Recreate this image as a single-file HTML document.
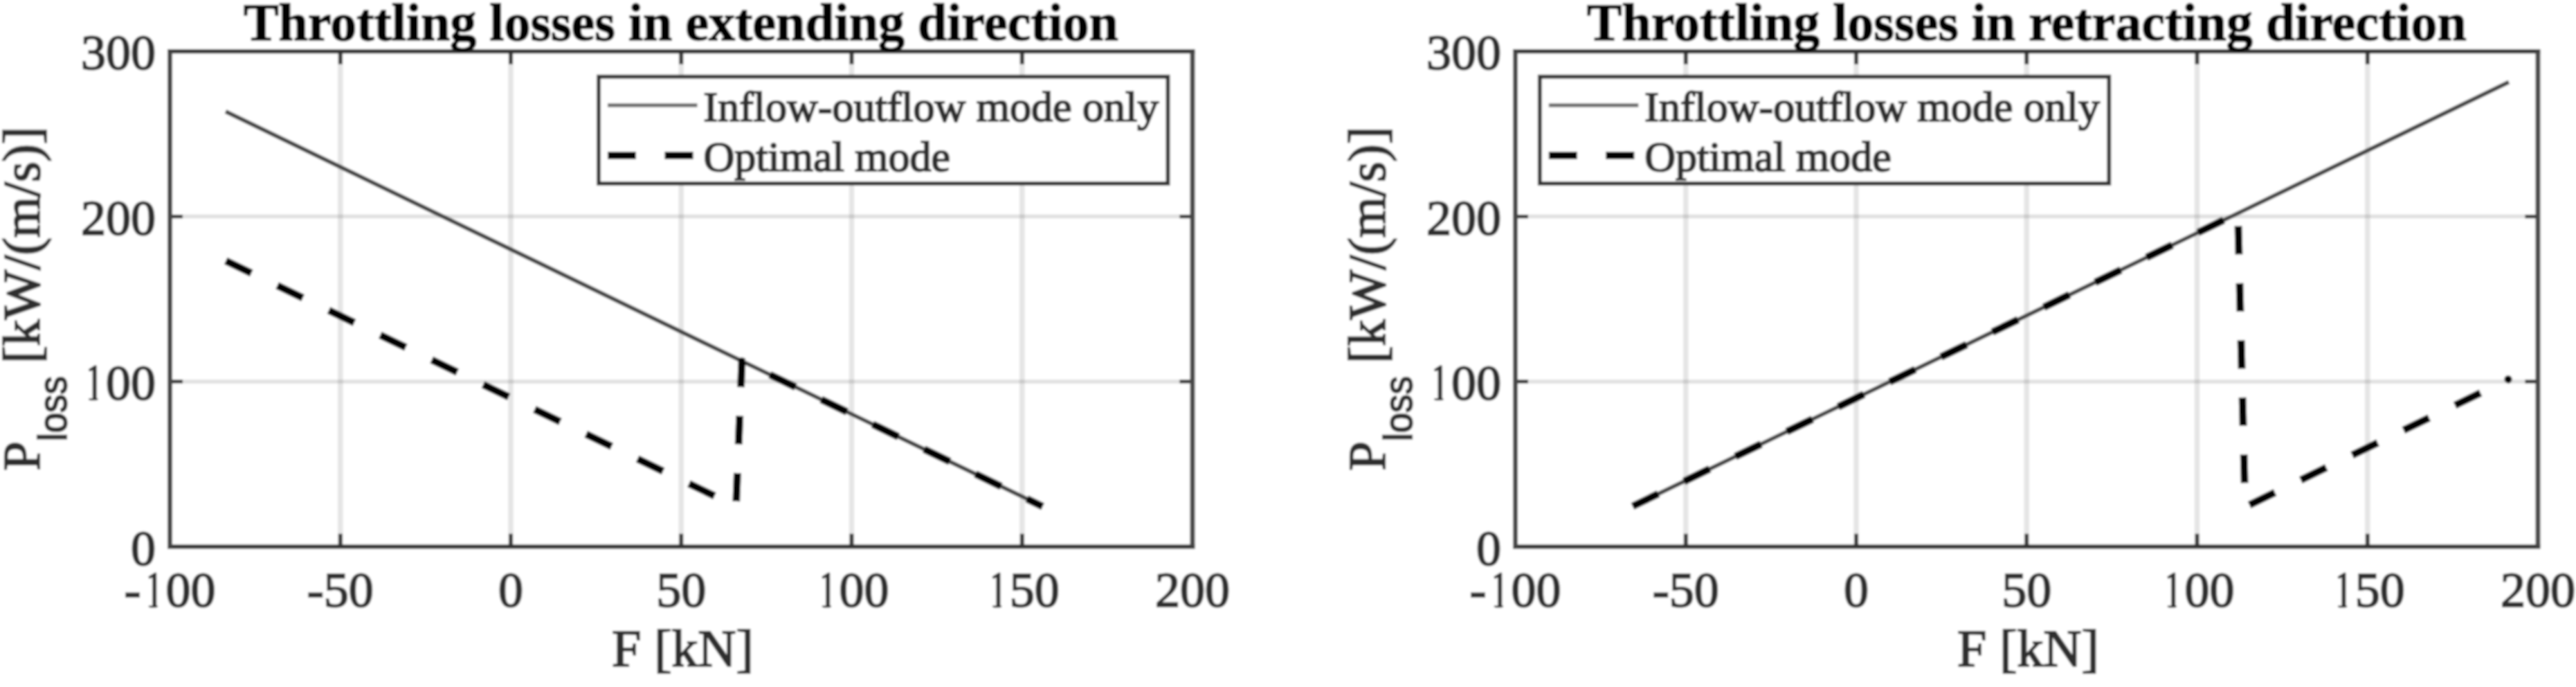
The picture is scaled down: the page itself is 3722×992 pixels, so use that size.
<!DOCTYPE html>
<html><head><meta charset="utf-8"><style>
html,body{margin:0;padding:0;background:#fff;overflow:hidden;}
svg{display:block;font-family:"Liberation Serif",serif;}
text{stroke:#2e2e2e;stroke-width:2.2px;}
text.t{stroke:#000;stroke-width:1.5px;}
.h{fill:none;stroke:none;}
</style></head><body>
<svg width="3722" height="992" viewBox="0 0 3722 992">
<defs><filter id="b" x="0" y="0" width="3722" height="992" filterUnits="userSpaceOnUse"><feGaussianBlur stdDeviation="1.7 1.5"/></filter></defs>
<g filter="url(#b)">
<rect width="3722" height="992" fill="#fff"/>
<path d="M491.8 74.2V789.3M738.0 74.2V789.3M984.2 74.2V789.3M1230.5 74.2V789.3M1476.8 74.2V789.3" stroke="#262626" stroke-opacity="0.12" stroke-width="7.5" fill="none"/>
<path d="M245.5 550.9H1723.0M245.5 312.6H1723.0" stroke="#262626" stroke-opacity="0.14" stroke-width="5.5" fill="none"/>
<path d="M491.8 789.3v-18.5M491.8 74.2v18.5M738.0 789.3v-18.5M738.0 74.2v18.5M984.2 789.3v-18.5M984.2 74.2v18.5M1230.5 789.3v-18.5M1230.5 74.2v18.5M1476.8 789.3v-18.5M1476.8 74.2v18.5" stroke="#3a3a3a" stroke-width="6" fill="none"/>
<path d="M245.5 550.9h18.5M1723.0 550.9h-18.5M245.5 312.6h18.5M1723.0 312.6h-18.5" stroke="#333" stroke-width="5.2" fill="none"/>
<polyline points="326.0,161.0 1506.5,731.3" stroke="#444" stroke-width="6" fill="none"/>
<polyline points="326.3,376.6 1063.5,731.0 1072.0,521.5 1506.5,731.3" stroke="#000" stroke-width="10.8" fill="none" stroke-dasharray="41 41.5" stroke-linejoin="round"/>
<path d="M242.0 74.2H1726.5M242.0 789.3H1726.5" stroke="#333" stroke-width="6.2" fill="none"/>
<path d="M245.5 74.2V789.3M1723.0 74.2V789.3" stroke="#474747" stroke-width="7" fill="none"/>
<rect x="865.0" y="110.7" width="822.5" height="154.3" stroke="#333" stroke-width="5.8" fill="#fff"/>
<path d="M878.0 152H1007.5" stroke="#6c6c6c" stroke-width="5.5" fill="none"/>
<path d="M878.0 224.5H1007.5" stroke="#000" stroke-width="10.8" stroke-dasharray="41 41.5" fill="none"/>
<text x="1016.5" y="175.2" font-size="62" fill="#2e2e2e">Inflow-outflow mode only</text>
<text x="1016.5" y="247.2" font-size="62" fill="#2e2e2e">Optimal mode</text>
<text x="179.5" y="876.4" font-size="72" fill="#2e2e2e">-<tspan class="h">1</tspan>00</text>
<path d="M217.50 876.40h7.6v-48.6h-1.4l-8.2 5.4l0.9 1.3l4.9-2.2v44.1z" fill="#2e2e2e" stroke="#2e2e2e" stroke-width="2.2" stroke-linejoin="round"/>
<path d="M215.50 876.40h11.8v-1.2h-11.8z" fill="#2e2e2e" stroke="#2e2e2e" stroke-width="1.2"/>
<text x="443.8" y="876.4" font-size="72" fill="#2e2e2e">-50</text>
<text x="720.0" y="876.4" font-size="72" fill="#2e2e2e">0</text>
<text x="948.2" y="876.4" font-size="72" fill="#2e2e2e">50</text>
<text x="1176.5" y="876.4" font-size="72" fill="#2e2e2e"><tspan class="h">1</tspan>00</text>
<path d="M1190.50 876.40h7.6v-48.6h-1.4l-8.2 5.4l0.9 1.3l4.9-2.2v44.1z" fill="#2e2e2e" stroke="#2e2e2e" stroke-width="2.2" stroke-linejoin="round"/>
<path d="M1188.50 876.40h11.8v-1.2h-11.8z" fill="#2e2e2e" stroke="#2e2e2e" stroke-width="1.2"/>
<text x="1422.8" y="876.4" font-size="72" fill="#2e2e2e"><tspan class="h">1</tspan>50</text>
<path d="M1436.75 876.40h7.6v-48.6h-1.4l-8.2 5.4l0.9 1.3l4.9-2.2v44.1z" fill="#2e2e2e" stroke="#2e2e2e" stroke-width="2.2" stroke-linejoin="round"/>
<path d="M1434.75 876.40h11.8v-1.2h-11.8z" fill="#2e2e2e" stroke="#2e2e2e" stroke-width="1.2"/>
<text x="1669.0" y="876.4" font-size="72" fill="#2e2e2e">200</text>
<text x="189.0" y="815.5" font-size="72" fill="#2e2e2e">0</text>
<text x="117.0" y="577.1" font-size="72" fill="#2e2e2e"><tspan class="h">1</tspan>00</text>
<path d="M131.00 577.13h7.6v-48.6h-1.4l-8.2 5.4l0.9 1.3l4.9-2.2v44.1z" fill="#2e2e2e" stroke="#2e2e2e" stroke-width="2.2" stroke-linejoin="round"/>
<path d="M129.00 577.13h11.8v-1.2h-11.8z" fill="#2e2e2e" stroke="#2e2e2e" stroke-width="1.2"/>
<text x="117.0" y="338.8" font-size="72" fill="#2e2e2e">200</text>
<text x="117.0" y="100.4" font-size="72" fill="#2e2e2e">300</text>
<text x="884.0" y="962.1" font-size="76" fill="#2e2e2e">F [kN]</text>
<text transform="translate(57.0,679.4) rotate(-90)" font-size="76" fill="#2e2e2e">P</text>
<text transform="translate(95.8,637.0) rotate(-90) scale(0.91,1)" font-size="58" font-family="Liberation Sans, sans-serif" fill="#2e2e2e">loss</text>
<text transform="translate(57.0,524.7) rotate(-90)" font-size="76" fill="#2e2e2e">[kW/(m/s)]</text>
<text class="t" x="351.9" y="57.9" font-size="76" font-weight="bold" fill="#000">Throttling losses in extending direction</text>
<path d="M2435.8 74.2V789.3M2682.0 74.2V789.3M2928.2 74.2V789.3M3174.5 74.2V789.3M3420.8 74.2V789.3" stroke="#262626" stroke-opacity="0.12" stroke-width="7.5" fill="none"/>
<path d="M2189.5 550.9H3667.0M2189.5 312.6H3667.0" stroke="#262626" stroke-opacity="0.14" stroke-width="5.5" fill="none"/>
<path d="M2435.8 789.3v-18.5M2435.8 74.2v18.5M2682.0 789.3v-18.5M2682.0 74.2v18.5M2928.2 789.3v-18.5M2928.2 74.2v18.5M3174.5 789.3v-18.5M3174.5 74.2v18.5M3420.8 789.3v-18.5M3420.8 74.2v18.5" stroke="#3a3a3a" stroke-width="6" fill="none"/>
<path d="M2189.5 550.9h18.5M3667.0 550.9h-18.5M2189.5 312.6h18.5M3667.0 312.6h-18.5" stroke="#333" stroke-width="5.2" fill="none"/>
<polyline points="2359.0,731.0 3625.0,118.5" stroke="#444" stroke-width="6" fill="none"/>
<polyline points="2359.0,731.0 3233.5,307.9 3244.0,732.0 3625.5,547.3" stroke="#000" stroke-width="10.8" fill="none" stroke-dasharray="41 41.5" stroke-linejoin="round"/>
<path d="M2186.0 74.2H3670.5M2186.0 789.3H3670.5" stroke="#333" stroke-width="6.2" fill="none"/>
<path d="M2189.5 74.2V789.3M3667.0 74.2V789.3" stroke="#474747" stroke-width="7" fill="none"/>
<rect x="2224.8" y="110.7" width="822.5" height="154.3" stroke="#333" stroke-width="5.8" fill="#fff"/>
<path d="M2237.8 152H2367.3" stroke="#6c6c6c" stroke-width="5.5" fill="none"/>
<path d="M2237.8 224.5H2367.3" stroke="#000" stroke-width="10.8" stroke-dasharray="41 41.5" fill="none"/>
<text x="2376.3" y="175.2" font-size="62" fill="#2e2e2e">Inflow-outflow mode only</text>
<text x="2376.3" y="247.2" font-size="62" fill="#2e2e2e">Optimal mode</text>
<text x="2123.5" y="876.4" font-size="72" fill="#2e2e2e">-<tspan class="h">1</tspan>00</text>
<path d="M2161.50 876.40h7.6v-48.6h-1.4l-8.2 5.4l0.9 1.3l4.9-2.2v44.1z" fill="#2e2e2e" stroke="#2e2e2e" stroke-width="2.2" stroke-linejoin="round"/>
<path d="M2159.50 876.40h11.8v-1.2h-11.8z" fill="#2e2e2e" stroke="#2e2e2e" stroke-width="1.2"/>
<text x="2387.8" y="876.4" font-size="72" fill="#2e2e2e">-50</text>
<text x="2664.0" y="876.4" font-size="72" fill="#2e2e2e">0</text>
<text x="2892.2" y="876.4" font-size="72" fill="#2e2e2e">50</text>
<text x="3120.5" y="876.4" font-size="72" fill="#2e2e2e"><tspan class="h">1</tspan>00</text>
<path d="M3134.50 876.40h7.6v-48.6h-1.4l-8.2 5.4l0.9 1.3l4.9-2.2v44.1z" fill="#2e2e2e" stroke="#2e2e2e" stroke-width="2.2" stroke-linejoin="round"/>
<path d="M3132.50 876.40h11.8v-1.2h-11.8z" fill="#2e2e2e" stroke="#2e2e2e" stroke-width="1.2"/>
<text x="3366.8" y="876.4" font-size="72" fill="#2e2e2e"><tspan class="h">1</tspan>50</text>
<path d="M3380.75 876.40h7.6v-48.6h-1.4l-8.2 5.4l0.9 1.3l4.9-2.2v44.1z" fill="#2e2e2e" stroke="#2e2e2e" stroke-width="2.2" stroke-linejoin="round"/>
<path d="M3378.75 876.40h11.8v-1.2h-11.8z" fill="#2e2e2e" stroke="#2e2e2e" stroke-width="1.2"/>
<text x="3613.0" y="876.4" font-size="72" fill="#2e2e2e">200</text>
<text x="2133.0" y="815.5" font-size="72" fill="#2e2e2e">0</text>
<text x="2061.0" y="577.1" font-size="72" fill="#2e2e2e"><tspan class="h">1</tspan>00</text>
<path d="M2075.00 577.13h7.6v-48.6h-1.4l-8.2 5.4l0.9 1.3l4.9-2.2v44.1z" fill="#2e2e2e" stroke="#2e2e2e" stroke-width="2.2" stroke-linejoin="round"/>
<path d="M2073.00 577.13h11.8v-1.2h-11.8z" fill="#2e2e2e" stroke="#2e2e2e" stroke-width="1.2"/>
<text x="2061.0" y="338.8" font-size="72" fill="#2e2e2e">200</text>
<text x="2061.0" y="100.4" font-size="72" fill="#2e2e2e">300</text>
<text x="2828.0" y="962.1" font-size="76" fill="#2e2e2e">F [kN]</text>
<text transform="translate(2001.0,679.4) rotate(-90)" font-size="76" fill="#2e2e2e">P</text>
<text transform="translate(2039.8,637.0) rotate(-90) scale(0.91,1)" font-size="58" font-family="Liberation Sans, sans-serif" fill="#2e2e2e">loss</text>
<text transform="translate(2001.0,524.7) rotate(-90)" font-size="76" fill="#2e2e2e">[kW/(m/s)]</text>
<text class="t" x="2292.8" y="57.9" font-size="76" font-weight="bold" fill="#000">Throttling losses in retracting direction</text>
<circle cx="3624" cy="547.6" r="5.6" fill="#000"/>
</g>
</svg>
</body></html>
